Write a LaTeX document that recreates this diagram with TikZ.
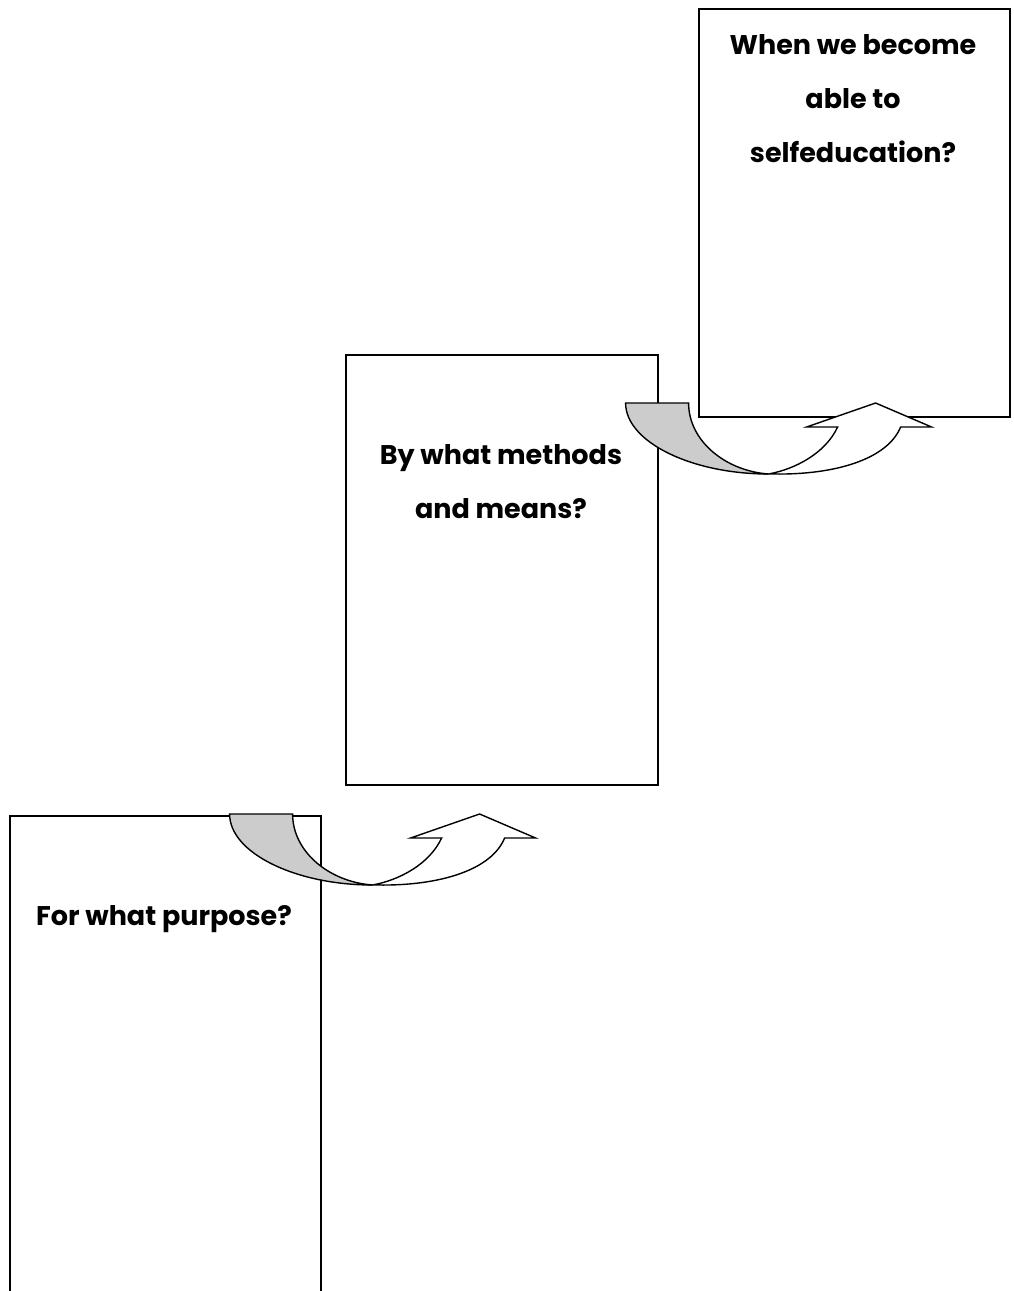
\documentclass[tikz,border=0pt]{standalone}
\usepackage{fontspec}
\setmainfont{Poppins}
\usetikzlibrary{calc}
\definecolor{bandgray}{gray}{0.8}
\tikzset{
  box/.style={draw, line width=1.6pt, fill=white, inner sep=0pt, anchor=north west},
  question/.style={font=\fontsize{27}{54}\selectfont\bfseries, align=center, inner sep=0pt, anchor=base},
  band/.style={draw, line width=1.4pt, line join=miter},
  curvedup/.pic={
    % rising white part ending in the arrow head
    \draw[band, fill=white] (143,71) .. controls (170,66) and (200,50) .. (212,24)
      -- (181,24) -- (250,0) -- (306,24) -- (275,24)
      .. controls (262,56) and (210,72) .. (148,71) -- cycle;
    % shaded part leaving the box
    \draw[band, fill=bandgray] (0,0) -- (63,0) .. controls (63,38) and (100,68) .. (143,71)
      .. controls (66,71) and (0,39) .. cycle;
  }
}
\begin{document}
\begin{tikzpicture}[x=1pt, y=-1pt]
  \useasboundingbox (0,0) rectangle (1013,1291);
  \clip (0,0) rectangle (1013,1291);
  % the three boxes
  \node[box, minimum width=311pt, minimum height=500pt] (box1) at (9,815) {};
  \node[box, minimum width=312pt, minimum height=430pt] (box2) at (345,354) {};
  \node[box, minimum width=311pt, minimum height=408pt] (box3) at (698,8) {};
  % questions (each anchored at the baseline of its last line)
  \node[question] (q1) at (164,925) {For what purpose?};
  \node[question] (q2) at (501,518) {By what methods\\and means?};
  \node[question] (q3) at (853,162) {When we become\\able to\\selfeducation?};
  % curved arrows from one box to the next
  \pic at ($(box1.north east)+(-92,-1)$) {curvedup};
  \pic at ($(box2.north east)+(-33,49)$) {curvedup};
\end{tikzpicture}
\end{document}
